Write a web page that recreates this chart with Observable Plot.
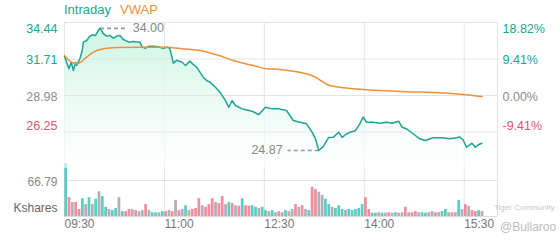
<!DOCTYPE html>
<html><head><meta charset="utf-8">
<script src="https://cdn.jsdelivr.net/npm/d3@7"></script>
<script src="https://cdn.jsdelivr.net/npm/@observablehq/plot@0.6"></script>
<style>
body{margin:0;background:#fff;font-family:"Liberation Sans",Arial,sans-serif;}
#chart{position:relative;width:560px;height:240px;overflow:hidden;background:#fff}
#chart svg{position:absolute;left:0;top:0;background:transparent}
.lbl{position:absolute;white-space:nowrap}
</style></head><body><div id="chart"></div>
<script>
// ---- data ----
const timeTicks = [0, 90, 180, 270, 360];            // minutes after 09:30
const timeLabels = ["09:30", "11:00", "12:30", "14:00", "15:30"];
const sessionMinutes = 390;                            // 09:30 -> 16:00
const priceTicks = [34.44, 31.71, 28.98, 26.25];
const pctLabels = ["18.82%", "9.41%", "0.00%", "-9.41%"];
const prevClose = 28.98;
const priceFloor = 23.52;
const priceMinutes = [0,4,6,8,10,11,14,16,17,20,22,25,28,31,32,35,38,41,44,47,50,53,58,62,68,70,73,76,80,85,89,93,95,98,101,106,109,113,116,119,125,128,131,136,140,145,148,151,154,160,164,169,175,181,187,193,200,206,212,218,223,226,229,233,238,242,247,250,254,257,262,266,269,272,278,284,290,295,301,304,308,314,320,325,332,340,347,353,356,359,362,367,370,373,376];
const prices = [31.92,30.98,31.47,30.85,31.47,31.23,31.77,32.35,32.97,33.09,33.34,33.52,33.47,33.92,34.00,33.60,33.42,33.47,33.27,33.42,33.47,33.17,32.97,33.02,32.97,32.60,32.52,32.67,32.67,32.60,32.52,32.60,32.47,31.40,31.62,31.47,31.22,31.55,31.30,31.10,30.35,30.10,29.98,29.60,29.23,28.60,28.10,28.60,28.23,27.98,27.90,27.80,27.56,28.10,27.98,27.98,27.86,27.11,26.98,26.86,26.24,25.74,24.87,25.16,25.84,25.85,26.23,25.85,26.10,26.23,26.35,26.86,27.36,26.98,26.98,26.90,26.98,26.90,27.06,26.61,26.49,26.12,25.74,25.62,25.82,25.82,25.74,25.82,25.87,25.67,25.11,25.41,25.11,25.31,25.41];
const vwapMinutes = [0,4,11,15,20,26,35,47,68,89,110,122,140,152,171,182,194,206,218,226,233,239,269,299,359,376];
const vwap = [31.97,31.60,31.35,31.50,31.85,32.22,32.47,32.57,32.59,32.59,32.45,32.35,31.95,31.60,31.20,30.98,30.93,30.80,30.60,30.35,29.98,29.73,29.43,29.30,29.06,28.90];
const highMark = {minute: 32, price: 34.00, label: "34.00"};
const lowMark = {minute: 229, price: 24.87, label: "24.87"};
const volumeBin = 3; // minutes per bar
const volumes = [98,35,26,26,13,33,22,35,22,32,46,37,17,13,11,15,35,9,9,13,13,11,9,11,22,11,7,7,7,9,9,11,9,30,11,13,20,11,13,15,33,20,17,22,33,26,24,37,22,26,24,20,19,33,20,19,20,17,15,17,11,9,11,7,9,7,11,9,13,22,17,20,13,11,54,50,45,39,32,22,17,15,20,13,11,13,11,13,15,22,35,13,6,6,7,6,6,7,6,7,6,7,17,7,7,9,7,7,6,7,9,7,7,9,13,7,7,7,30,13,22,19,11,9,11,9];
const volumeDirs = "udnddunununuunuunuddndnndnuunudndndnundddndddnddnudndudduunuunundnunndndnuddnnuunuuunuuuuudduunundnudndnddnuunndnuundnundnddunun".split("");
const volumeTick = 66.79;
const volumeTop = 133.58;

// ---- style ----
const teal = "#1ea394", orange = "#f0913a", red = "#e3536c", gray = "#8c8c8c", grid = "#e4e4e4";
const barColors = {u: "#3dc6b6", d: "#f27a8e", n: "#a79fae"};
const font = '"Liberation Sans", Arial, sans-serif';
const W = 560, H = 240, mL = 64, mR = 63;
const labelColor = p => p > prevClose ? teal : p < prevClose ? red : gray;

const priceData = priceMinutes.map((m, i) => ({m, p: prices[i]}));
const vwapData = vwapMinutes.map((m, i) => ({m, p: vwap[i]}));
const volData = volumes.map((v, i) => ({m: i * volumeBin, v, c: barColors[volumeDirs[i]] || barColors.n}));

const chart = document.getElementById("chart");
const common = {width: W, height: H, marginLeft: mL, marginRight: mR,
  x: {domain: [0, sessionMinutes], axis: null},
  style: {background: "transparent", fontFamily: font, fontSize: "12px", overflow: "visible"}};

// frame: vertical grid + time labels
const framePlot = Plot.plot({...common, marginTop: 22, marginBottom: 24,
  y: {domain: [0, 1], axis: null},
  marks: [
    Plot.ruleX(timeTicks, {stroke: grid, strokeWidth: 1}),
    Plot.ruleX([sessionMinutes], {stroke: grid, strokeWidth: 1}),
    Plot.text(timeTicks, {x: d => d, frameAnchor: "bottom", dy: 11, textAnchor: "start",
      text: (d, i) => timeLabels[i], fill: "#777", fontSize: 12})
  ]});
chart.appendChild(framePlot);

// volume panel
const volPlot = Plot.plot({...common, marginTop: 144, marginBottom: 24,
  y: {domain: [0, volumeTop], axis: null},
  marks: [
    Plot.ruleY([volumeTick], {stroke: grid}),
    Plot.ruleY([0], {stroke: "#dcdcdc"}),
    Plot.rectY(volData, {x1: "m", x2: d => d.m + volumeBin, y1: 0, y2: "v", fill: "c", fillOpacity: 0.85, insetLeft: 0.3, insetRight: 0.3}),
    Plot.text([volumeTick], {y: d => d, frameAnchor: "left", dx: -7, dy: 2, textAnchor: "end",
      text: d => d.toFixed(2), fill: "#888", fontSize: 12}),
    Plot.text(["Kshares"], {frameAnchor: "bottom-left", dx: -7, dy: -5, textAnchor: "end",
      text: d => d, fill: "#666", fontSize: 12})
  ]});
chart.appendChild(volPlot);

// price panel
const defs = () => {
  const g = d3.create("svg:defs");
  const lg = g.append("linearGradient").attr("id", "mint").attr("x1", 0).attr("x2", 0).attr("y1", 0).attr("y2", 1);
  lg.append("stop").attr("offset", "0%").attr("stop-color", "#ccf5e2");
  lg.append("stop").attr("offset", "100%").attr("stop-color", "#ffffff").attr("stop-opacity", 0.6);
  return g.node();
};
const pricePlot = Plot.plot({...common, marginTop: 22, marginBottom: 72,
  y: {domain: [priceFloor, priceTicks[0]], axis: null},
  marks: [
    defs,
    Plot.areaY(priceData, {x: "m", y1: priceFloor, y2: "p", fill: "url(#mint)"}),
    Plot.ruleY(priceTicks, {stroke: grid}),
    Plot.link([highMark], {x1: "minute", x2: d => d.minute + 24, y1: "price", y2: "price",
      stroke: "#9a9a9a", strokeWidth: 1.6, strokeDasharray: "4,3"}),
    Plot.text([highMark], {x: d => d.minute + 24, y: "price", dx: 6, textAnchor: "start", text: "label", fill: "#888", fontSize: 12.5}),
    Plot.link([lowMark], {x1: "minute", x2: d => d.minute - 28, y1: "price", y2: "price",
      stroke: "#9a9a9a", strokeWidth: 1.6, strokeDasharray: "4,3"}),
    Plot.text([lowMark], {x: d => d.minute - 28, y: "price", dx: -5, textAnchor: "end", text: "label", fill: "#888", fontSize: 12.5}),
    Plot.line(priceData, {x: "m", y: "p", stroke: teal, strokeWidth: 1.5}),
    Plot.line(vwapData, {x: "m", y: "p", stroke: orange, strokeWidth: 1.5, curve: "monotone-x"}),
    // left price labels
    Plot.text(priceTicks.slice(0, 1), {y: d => d, frameAnchor: "left", dx: -7, dy: 6, textAnchor: "end", text: d => d.toFixed(2), fill: labelColor, fontSize: 12.5}),
    Plot.text(priceTicks.slice(1, 3), {y: d => d, frameAnchor: "left", dx: -7, dy: 1, textAnchor: "end", text: d => d.toFixed(2), fill: labelColor, fontSize: 12.5}),
    Plot.text(priceTicks.slice(3), {y: d => d, frameAnchor: "left", dx: -7, dy: -6, textAnchor: "end", text: d => d.toFixed(2), fill: labelColor, fontSize: 12.5}),
    // right percent labels
    Plot.text(priceTicks.slice(0, 1), {y: d => d, frameAnchor: "right", dx: 5, dy: 6, textAnchor: "start", text: (d, i) => pctLabels[i], fill: labelColor, fontSize: 12.5}),
    Plot.text(priceTicks.slice(1, 3), {y: d => d, frameAnchor: "right", dx: 5, dy: 1, textAnchor: "start", text: (d, i) => pctLabels[i + 1], fill: labelColor, fontSize: 12.5}),
    Plot.text(priceTicks.slice(3), {y: d => d, frameAnchor: "right", dx: 5, dy: -6, textAnchor: "start", text: d => pctLabels[3], fill: labelColor, fontSize: 12.5})
  ]});
chart.appendChild(pricePlot);

// legend + watermark
const addLabel = (txt, css) => { const s = document.createElement("div"); s.className = "lbl"; s.textContent = txt; Object.assign(s.style, css); chart.appendChild(s); };
addLabel("Intraday", {left: "64px", top: "2px", fontSize: "13px", color: teal});
addLabel("VWAP", {left: "120px", top: "2px", fontSize: "13px", color: orange});
addLabel("Tiger Community", {left: "494px", top: "203px", fontSize: "8px", color: "#c9c9c9"});
addLabel("@Bullaroo", {left: "500px", top: "220px", fontSize: "12px", color: "#bdbdbd"});
</script></body></html>
